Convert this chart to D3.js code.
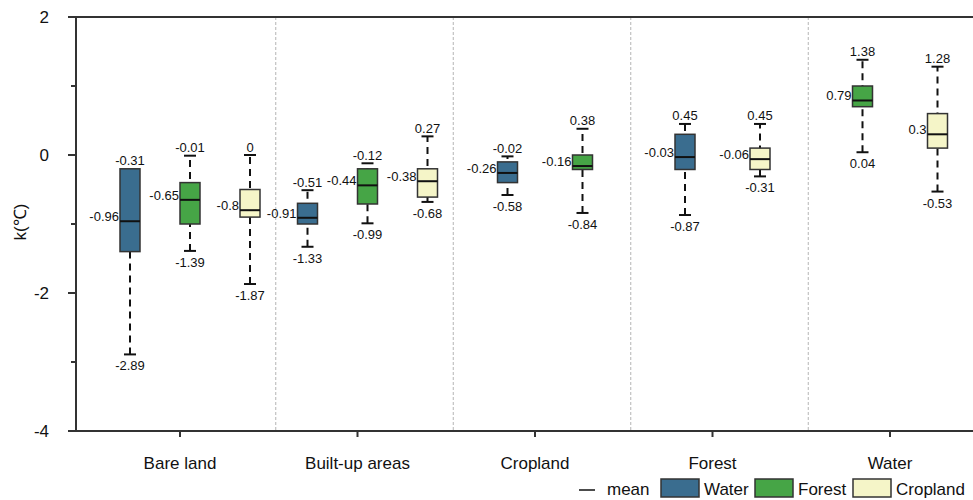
<!DOCTYPE html>
<html>
<head>
<meta charset="utf-8">
<script src="https://cdn.jsdelivr.net/npm/d3@7"></script>
<style>
  html, body { margin: 0; padding: 0; background: #fff; }
  svg { display: block; font-family: "Liberation Sans", Arial, sans-serif; }
</style>
</head>
<body>
<svg id="chart" width="973" height="500"></svg>
<script>
// ---------------- data ----------------
const categories = ["Bare land", "Built-up areas", "Cropland", "Forest", "Water"];
const seriesNames = ["Water", "Forest", "Cropland"];
const seriesColors = ["#3a6d8f", "#46a546", "#f5f5c8"];
const yTickValues = [2, 1, 0, -1, -2, -3, -4];
const yTickLabels = ["2", "", "0", "", "-2", "", "-4"];

// each entry: [min, q1, mean, q3, max] per category (null = not present)
const waterStats = [
  [-2.89, -1.40, -0.96, -0.20, -0.31],
  [-1.33, -1.00, -0.91, -0.70, -0.51],
  [-0.58, -0.40, -0.26, -0.10, -0.02],
  [-0.87, -0.21, -0.03, 0.30, 0.45],
  null
];
const forestStats = [
  [-1.39, -1.00, -0.65, -0.40, -0.01],
  [-0.99, -0.71, -0.44, -0.20, -0.12],
  [-0.84, -0.21, -0.16, 0.00, 0.38],
  null,
  [0.04, 0.70, 0.79, 1.00, 1.38]
];
const croplandStats = [
  [-1.87, -0.90, -0.80, -0.50, 0],
  [-0.68, -0.61, -0.38, -0.20, 0.27],
  null,
  [-0.31, -0.21, -0.06, 0.10, 0.45],
  [-0.53, 0.10, 0.30, 0.60, 1.28]
];
const allStats = [waterStats, forestStats, croplandStats];

// ---------------- layout ----------------
const svg = d3.select("#chart");
const axisX = 76, plotTop = 17, plotBottom = 431, plotRight = 975;
const y = d3.scaleLinear().domain([-4, 2]).range([plotBottom, plotTop]);
const x = d3.scaleBand().domain(categories).range([91.25, 978.75]).padding(0);
const boxW = 20, capW = 12, groupShift = 10;
const stepFor = n => (n === 3 ? 60 : 75);
const textCol = "#111";

// dividers
const dividers = categories.slice(1).map(c => x(c) + groupShift - 3);
svg.append("g").selectAll("line").data(dividers).join("line")
  .attr("x1", d => d).attr("x2", d => d)
  .attr("y1", plotTop).attr("y2", plotBottom)
  .attr("stroke", "#b5b5b5").attr("stroke-width", 1)
  .attr("stroke-dasharray", "3,2");

// frame lines
const frame = svg.append("g").attr("stroke", "#333").attr("stroke-width", 2);
frame.append("line").attr("x1", 68).attr("x2", plotRight).attr("y1", plotTop).attr("y2", plotTop);
frame.append("line").attr("x1", 68).attr("x2", plotRight).attr("y1", plotBottom).attr("y2", plotBottom);
frame.append("line").attr("x1", axisX).attr("x2", axisX).attr("y1", plotTop).attr("y2", plotBottom);

// y ticks
const yt = svg.append("g");
yTickValues.forEach((v, i) => {
  const major = yTickLabels[i] !== "";
  yt.append("line").attr("x1", axisX - (major ? 8 : 5)).attr("x2", axisX)
    .attr("y1", y(v)).attr("y2", y(v)).attr("stroke", "#333").attr("stroke-width", 2);
  if (major) {
    yt.append("text").attr("x", 49).attr("y", y(v) + 6)
      .attr("text-anchor", "end").attr("font-size", 17).attr("fill", textCol)
      .text(yTickLabels[i]);
  }
});

// x ticks and labels
const xt = svg.append("g");
categories.forEach(c => {
  const cx = x(c) + x.bandwidth() / 2;
  xt.append("line").attr("x1", cx).attr("x2", cx).attr("y1", plotBottom).attr("y2", plotBottom + 6)
    .attr("stroke", "#333").attr("stroke-width", 2);
  xt.append("text").attr("x", cx).attr("y", 469).attr("text-anchor", "middle")
    .attr("font-size", 17).attr("fill", textCol).text(c);
});

// y axis title
svg.append("text").attr("transform", "translate(26,222) rotate(-90)")
  .attr("text-anchor", "middle").attr("font-size", 17).attr("fill", textCol).text("k(℃)");

// boxes
const fmt = v => String(v);
const boxes = svg.append("g");
categories.forEach((c, ci) => {
  const present = seriesNames.map((s, si) => ({ s, si, st: allStats[si][ci] })).filter(d => d.st);
  const step = stepFor(present.length);
  const center = x(c) + x.bandwidth() / 2 + groupShift;
  const inner = d3.scalePoint().domain(present.map(d => d.s))
    .range([center - step * (present.length - 1) / 2, center + step * (present.length - 1) / 2]);
  present.forEach(d => {
    const [mn, q1, mean, q3, mx] = d.st;
    const bx = inner(d.s);
    const g = boxes.append("g");
    // whisker
    g.append("line").attr("x1", bx).attr("x2", bx).attr("y1", y(mn)).attr("y2", y(mx))
      .attr("stroke", "#111").attr("stroke-width", 2).attr("stroke-dasharray", "7,5");
    [mn, mx].forEach(v => g.append("line").attr("x1", bx - capW / 2).attr("x2", bx + capW / 2)
      .attr("y1", y(v)).attr("y2", y(v)).attr("stroke", "#111").attr("stroke-width", 2));
    // box
    g.append("rect").attr("x", bx - boxW / 2).attr("width", boxW)
      .attr("y", y(q3)).attr("height", y(q1) - y(q3))
      .attr("fill", seriesColors[d.si]).attr("stroke", "#333").attr("stroke-width", 1.5);
    // mean line
    g.append("line").attr("x1", bx - boxW / 2).attr("x2", bx + boxW / 2)
      .attr("y1", y(mean)).attr("y2", y(mean)).attr("stroke", "#111").attr("stroke-width", 2);
    // labels
    const topY = Math.min(y(mx), y(q3));
    g.append("text").attr("x", bx).attr("y", topY - 3.5).attr("text-anchor", "middle")
      .attr("font-size", 13).attr("fill", textCol).text(fmt(mx));
    g.append("text").attr("x", bx).attr("y", y(mn) + 16).attr("text-anchor", "middle")
      .attr("font-size", 13).attr("fill", textCol).text(fmt(mn));
    g.append("text").attr("x", bx - boxW / 2 - 1).attr("y", y(mean)).attr("text-anchor", "end")
      .attr("font-size", 13).attr("fill", textCol).text(fmt(mean));
  });
});

// legend
const lg = svg.append("g");
lg.append("line").attr("x1", 579).attr("x2", 595).attr("y1", 490).attr("y2", 490)
  .attr("stroke", "#111").attr("stroke-width", 1.5);
lg.append("text").attr("x", 607).attr("y", 495).attr("font-size", 17).attr("fill", textCol).text("mean");
const legX = [661, 755, 853];
seriesNames.forEach((s, i) => {
  lg.append("rect").attr("x", legX[i]).attr("y", 479).attr("width", 38).attr("height", 18)
    .attr("fill", seriesColors[i]).attr("stroke", "#333").attr("stroke-width", 1.5);
  lg.append("text").attr("x", legX[i] + 43).attr("y", 495).attr("font-size", 17)
    .attr("fill", textCol).text(s);
});
</script>
</body>
</html>
